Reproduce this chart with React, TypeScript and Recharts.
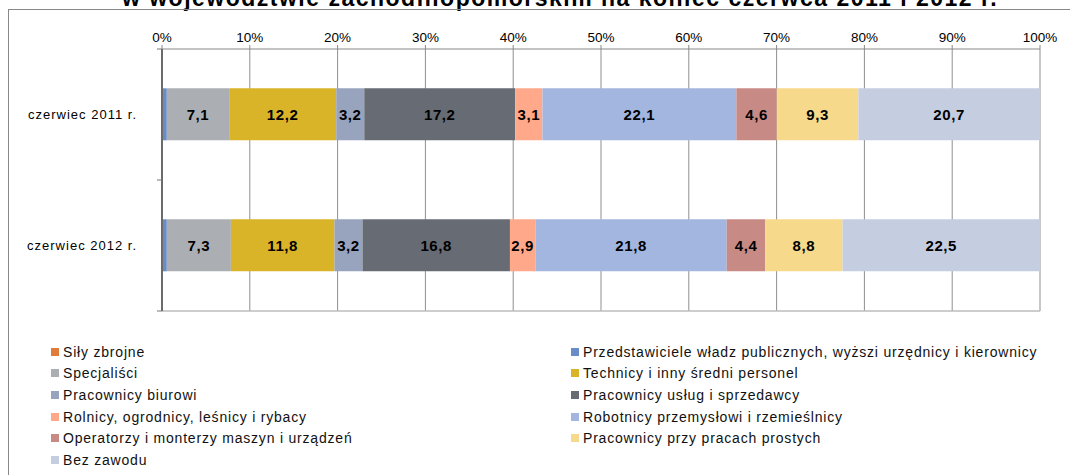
import React from 'react';
import { BarChart, Bar, XAxis, YAxis, CartesianGrid, LabelList } from 'recharts';

const categories = ['czerwiec 2011 r.', 'czerwiec 2012 r.'];
const seriesNames = [
  'Siły zbrojne',
  'Przedstawiciele władz publicznych, wyższi urzędnicy i kierownicy',
  'Specjaliści',
  'Technicy i inny średni personel',
  'Pracownicy biurowi',
  'Pracownicy usług i sprzedawcy',
  'Rolnicy, ogrodnicy, leśnicy i rybacy',
  'Robotnicy przemysłowi i rzemieślnicy',
  'Operatorzy i monterzy maszyn i urządzeń',
  'Pracownicy przy pracach prostych',
  'Bez zawodu',
];
const values2011 = [0.05, 0.5, 7.1, 12.2, 3.2, 17.2, 3.1, 22.1, 4.6, 9.3, 20.7];
const values2012 = [0.05, 0.5, 7.3, 11.8, 3.2, 16.8, 2.9, 21.8, 4.4, 8.8, 22.5];
const seriesColors = [
  '#E07B39', '#6A8CC7', '#ABAFB4', '#D9B428', '#98A3BE', '#676B73',
  '#FFA98A', '#A3B6E0', '#C88A85', '#F6D98A', '#C5CDE1',
];
const labelledFrom = 2;
const xTicks = [0, 0.1, 0.2, 0.3, 0.4, 0.5, 0.6, 0.7, 0.8, 0.9, 1];
const titleText = 'w województwie zachodniopomorskim na koniec czerwca 2011 i 2012 r.';

const valueRows = [values2011, values2012];
const data = categories.map((name, ci) => {
  const row: Record<string, any> = { name };
  seriesNames.forEach((_, si) => {
    row[`s${si}`] = valueRows[ci][si];
  });
  return row;
});

const FONT = '"Liberation Sans", Arial, sans-serif';
const CHART_W = 1070;
const CHART_H = 330;
const MARGIN = { top: 19, right: 30, bottom: 19, left: 8 };
const X_AXIS_H = 30;
const Y_AXIS_W = 154;
const PLOT_TOP = MARGIN.top + X_AXIS_H;
const PLOT_BOTTOM = CHART_H - MARGIN.bottom;
const PLOT_LEFT = MARGIN.left + Y_AXIS_W;
const HALF_BAND = (PLOT_BOTTOM - PLOT_TOP) / categories.length / 2;
const TICK_MARGIN = 25;

const CategoryTick = (props: any) => {
  const { x, y, payload, index } = props;
  const axisX = PLOT_LEFT;
  return (
    <g>
      <text
        x={x}
        y={y}
        textAnchor="end"
        dominantBaseline="central"
        fontSize={13}
        fontFamily={FONT}
        letterSpacing={1}
        fill="#000"
      >
        {payload.value}
      </text>
      {index === 0 && (
        <line x1={axisX - 5} x2={axisX} y1={y - HALF_BAND} y2={y - HALF_BAND} stroke="#777" />
      )}
      <line x1={axisX - 5} x2={axisX} y1={y + HALF_BAND} y2={y + HALF_BAND} stroke="#777" />
    </g>
  );
};

const fmt = (v: any) => (typeof v === 'number' ? v.toFixed(1).replace('.', ',') : v);

export default function App() {
  return (
    <div
      style={{
        position: 'absolute',
        left: 0,
        top: 0,
        width: 1070,
        height: 475,
        overflow: 'hidden',
        background: '#fff',
        fontFamily: FONT,
      }}
    >
      <div
        style={{
          position: 'absolute',
          left: 0,
          top: -13.5,
          width: 1120,
          textAlign: 'center',
          fontSize: 23,
          lineHeight: '23px',
          fontWeight: 'bold',
          letterSpacing: 1.5,
          color: '#000',
          whiteSpace: 'nowrap',
        }}
      >
        {titleText}
      </div>
      <div
        style={{
          position: 'absolute',
          left: 8,
          top: 9,
          width: 1200,
          height: 600,
          borderLeft: '1.5px solid #888',
          borderTop: '1.5px solid #888',
        }}
      />
      <div style={{ position: 'absolute', left: 0, top: 0 }}>
        <BarChart
          width={CHART_W}
          height={CHART_H}
          data={data}
          layout="vertical"
          stackOffset="expand"
          barCategoryGap="30%"
          margin={MARGIN}
        >
          <CartesianGrid horizontal={false} vertical stroke="#8f8f8f" />
          <CartesianGrid
            vertical={false}
            horizontal
            stroke="#bdbdbd"
            strokeWidth={1.5}
            horizontalCoordinatesGenerator={({ offset }: any) => [offset.top + offset.height]}
          />
          <XAxis
            type="number"
            orientation="top"
            domain={[0, 1]}
            ticks={xTicks}
            tickFormatter={(v: number) => `${Math.round(v * 100)}%`}
            height={X_AXIS_H}
            tickSize={4}
            tickMargin={3}
            axisLine={{ stroke: '#888' }}
            tickLine={{ stroke: '#888' }}
            tick={{ fill: '#000', fontSize: 13.5, fontFamily: FONT }}
            allowDataOverflow
          />
          <YAxis
            type="category"
            dataKey="name"
            width={Y_AXIS_W}
            axisLine={{ stroke: '#6b6b6b', strokeWidth: 2 }}
            tickLine={false}
            tickSize={0}
            tickMargin={TICK_MARGIN}
            tick={<CategoryTick />}
          />
          {seriesNames.map((name, si) => (
            <Bar
              key={name}
              dataKey={`s${si}`}
              name={name}
              stackId="a"
              fill={seriesColors[si]}
              isAnimationActive={false}
            >
              {si >= labelledFrom && (
                <LabelList
                  dataKey={`s${si}`}
                  position="center"
                  formatter={fmt}
                  fill="#000"
                  fontSize={15}
                  fontWeight="bold"
                  fontFamily={FONT}
                  letterSpacing={0.6}
                />
              )}
            </Bar>
          ))}
        </BarChart>
      </div>
      <div
        style={{
          position: 'absolute',
          left: 51,
          top: 341,
          display: 'grid',
          gridTemplateColumns: '520px 480px',
          rowGap: 0,
        }}
      >
        {seriesNames.map((name, si) => (
          <div
            key={name}
            style={{
              display: 'flex',
              alignItems: 'center',
              height: 21.6,
              fontSize: 14,
              letterSpacing: 0.8,
              color: '#111',
              whiteSpace: 'nowrap',
            }}
          >
            <span
              style={{
                display: 'inline-block',
                width: 8,
                height: 8,
                background: seriesColors[si],
                marginRight: 4,
              }}
            />
            {name}
          </div>
        ))}
      </div>
    </div>
  );
}
